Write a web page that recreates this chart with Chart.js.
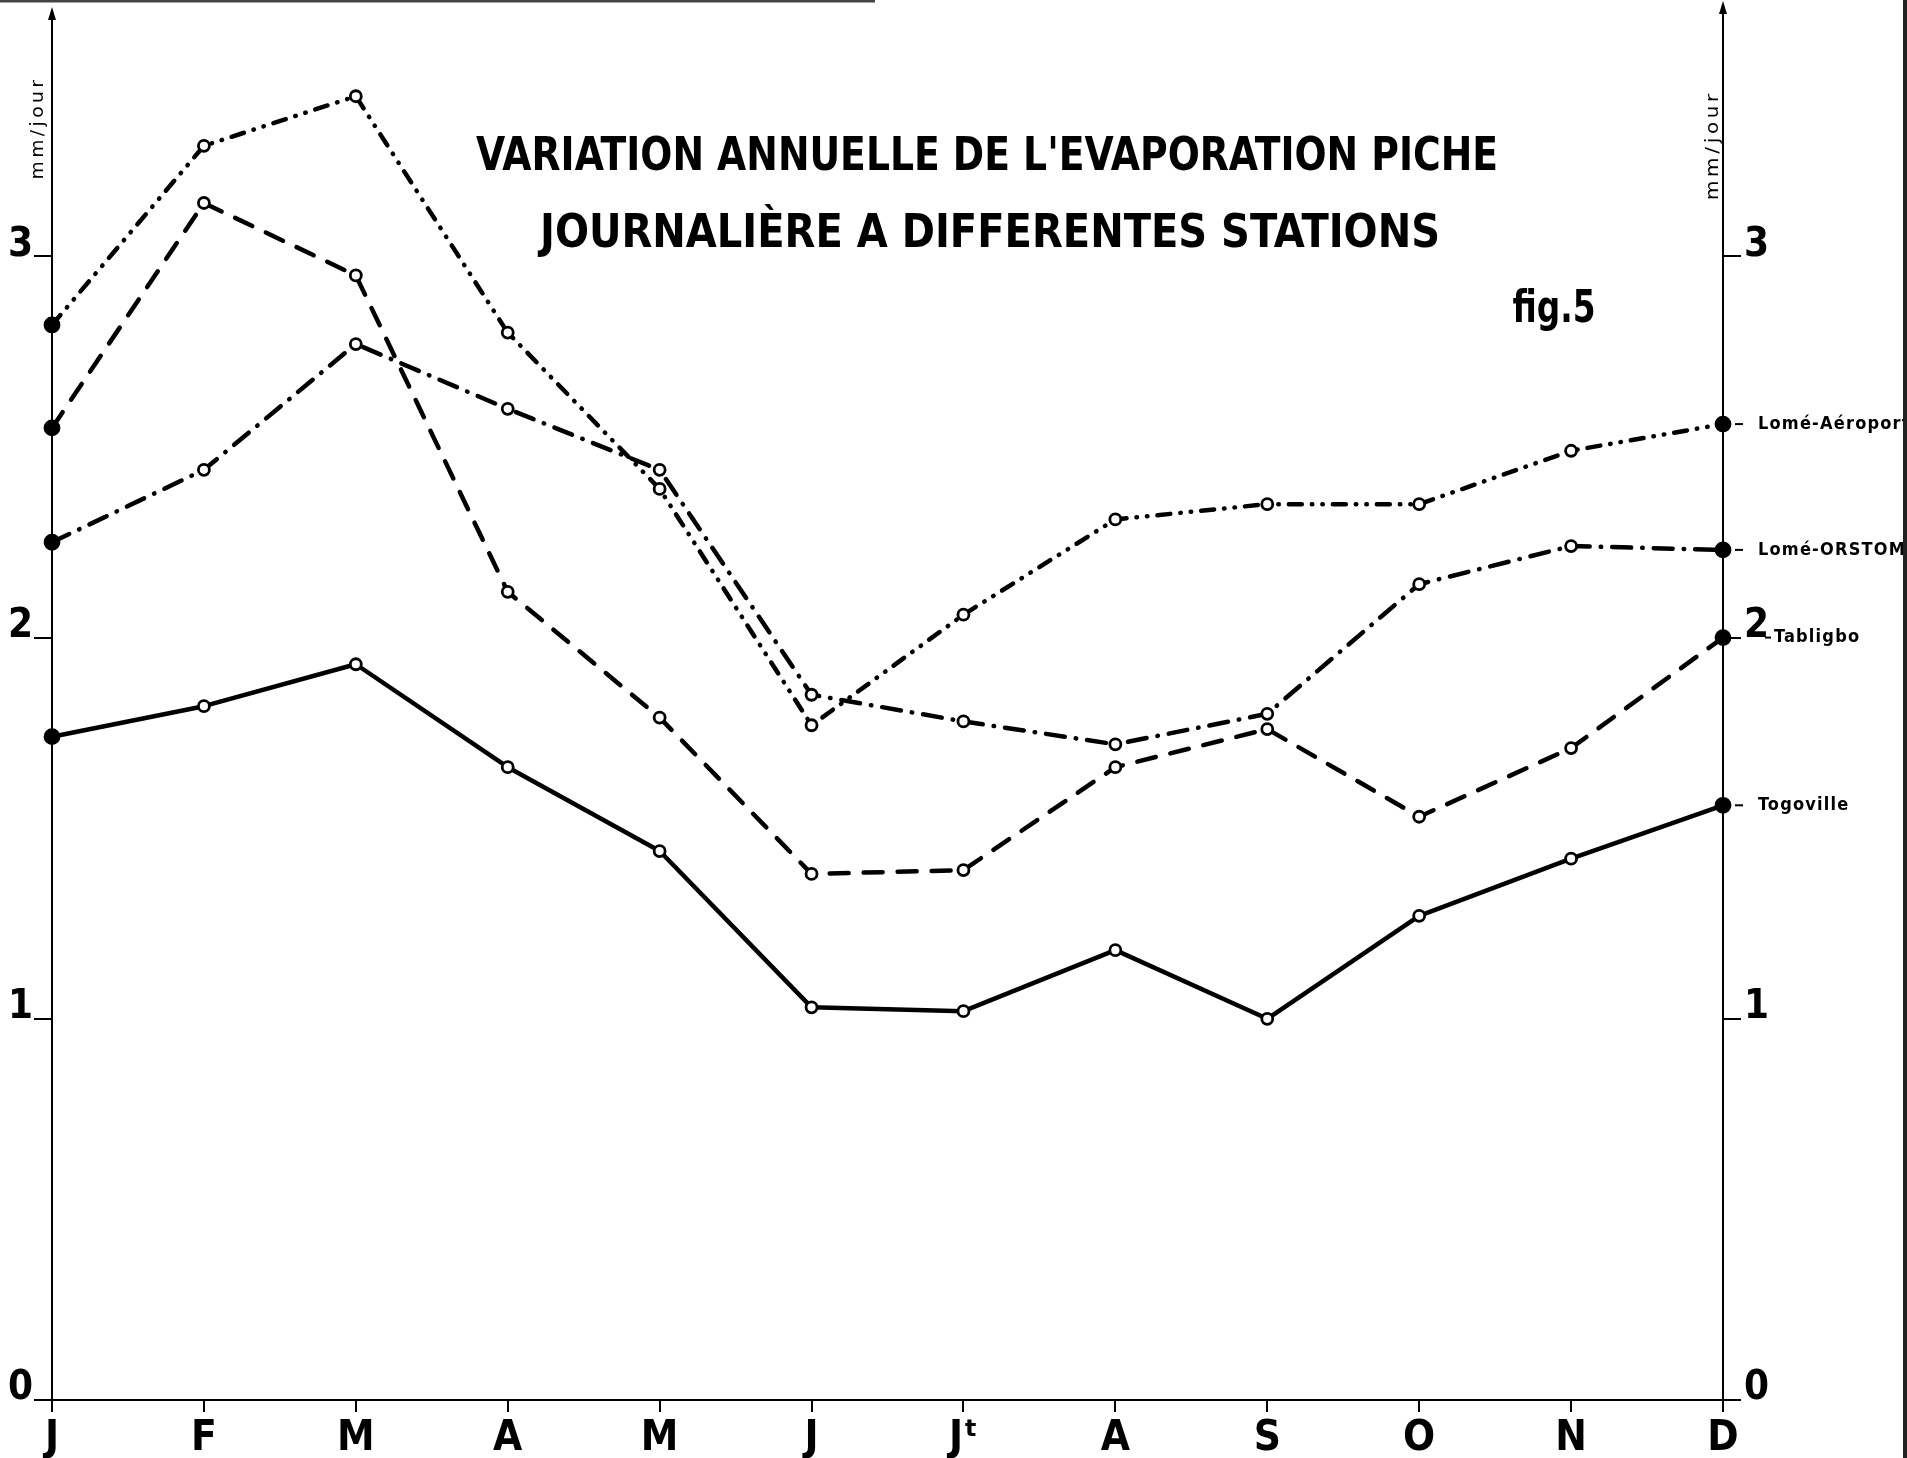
<!DOCTYPE html>
<html><head><meta charset="utf-8">
<script src="https://cdn.jsdelivr.net/npm/chart.js@4.4.1/dist/chart.umd.min.js"></script>
<style>html,body{margin:0;padding:0;background:#fff;}canvas{display:block}</style>
</head><body>
<canvas id="c" width="1907" height="1458"></canvas>
<script>
// ---- data ----
const months = ['J','F','M','A','M','J','J\u1D57','A','S','O','N','D'];
const stations = ['Lomé-Aéroport','Lomé-ORSTOM','Tabligbo','Togoville'];
const lomeAeroport = [2.82,3.29,3.42,2.80,2.39,1.77,2.06,2.31,2.35,2.35,2.49,2.56];
const lomeOrstom   = [2.25,2.44,2.77,2.60,2.44,1.85,1.78,1.72,1.80,2.14,2.24,2.23];
const tabligbo     = [2.55,3.14,2.95,2.12,1.79,1.38,1.39,1.66,1.76,1.53,1.71,2.00];
const togoville    = [1.74,1.82,1.93,1.66,1.44,1.03,1.02,1.18,1.00,1.27,1.42,1.56];
const yTicks = [0,1,2,3];
const titleLines = ["VARIATION ANNUELLE DE L'EVAPORATION PICHE","JOURNALIÈRE A DIFFERENTES STATIONS"];
const figLabel = 'fig.5';
const unitLabel = 'mm/jour';

// ---- styles ----
const FAM = "'DejaVu Sans Condensed','Liberation Sans Narrow','DejaVu Sans',sans-serif";
const dashStyles = [[13,10,0.5,10,0.5,10],[19,11,0.5,11],[19,15],[]];
const Y_MAX = 3.62;

function isEnd(c){ return c.dataIndex===0 || c.dataIndex===c.dataset.data.length-1; }
function mkDs(label, data, dash){
  return {label, data, borderColor:'#000', borderWidth:4.5, borderDash:dash,
    borderCapStyle: dash.length? 'round':'butt', borderJoinStyle:'round', tension:0, fill:false, clip:false,
    pointRadius: c => isEnd(c)?7:5.5, pointHoverRadius: c => isEnd(c)?7:5.5,
    pointBackgroundColor: c => isEnd(c)?'#000':'#fff', pointBorderColor:'#000', pointBorderWidth:2.8};
}

function fitText(ctx, text, cx, baseline, width, font){
  ctx.save();
  ctx.font = font; ctx.textAlign='left'; ctx.textBaseline='alphabetic';
  const w = ctx.measureText(text).width;
  ctx.translate(cx - width/2, baseline);
  ctx.scale(width/w, 1);
  ctx.fillText(text, 0, 0);
  ctx.restore();
}

const decor = {
  id:'decor',
  beforeDraw(chart){
    const c = chart.ctx; c.save(); c.fillStyle='#fff'; c.fillRect(0,0,chart.width,chart.height); c.restore();
  },
  afterDraw(chart){
    const ctx = chart.ctx, a = chart.chartArea, ys = chart.scales.y;
    ctx.save();
    ctx.strokeStyle='#000'; ctx.fillStyle='#000'; ctx.lineWidth=2;
    // axis arrows
    [[a.left, 7],[a.right, 1]].forEach(([x,tip])=>{
      ctx.beginPath(); ctx.moveTo(x,a.top+1); ctx.lineTo(x,tip+8); ctx.stroke();
      ctx.beginPath(); ctx.moveTo(x,tip); ctx.lineTo(x-4,tip+13); ctx.lineTo(x+4,tip+13); ctx.closePath(); ctx.fill();
    });
    // x-axis small extension to the left
    ctx.beginPath(); ctx.moveTo(36,a.bottom); ctx.lineTo(a.left,a.bottom); ctx.stroke();

    // title
    fitText(ctx, titleLines[0], 987, 170, 1022, "bold 47px "+FAM);
    fitText(ctx, titleLines[1], 990, 247, 900, "bold 47px "+FAM);
    fitText(ctx, figLabel, 1554, 322, 83, "bold 45px "+FAM);

    // unit labels (rotated, reading bottom to top)
    [[43,128,103],[1718,145,110]].forEach(([bx,cy,len])=>{
      ctx.save();
      ctx.translate(bx, cy); ctx.rotate(-Math.PI/2);
      ctx.font = "18px "+FAM; ctx.textAlign='left'; ctx.textBaseline='alphabetic';
      ctx.letterSpacing = '3px';
      const w = ctx.measureText(unitLabel).width;
      ctx.scale(len/w,1);
      ctx.fillText(unitLabel, -w/2, 0);
      ctx.restore();
    });

    // station labels at right end
    ctx.font = "bold 18px "+FAM; ctx.textBaseline='middle'; ctx.textAlign='left';
    ctx.letterSpacing = '1.2px';
    chart.data.datasets.forEach(ds=>{
      const last = ds.data[ds.data.length-1];
      const y = ys.getPixelForValue(last);
      const near = yTicks.find(t=>Math.abs(t-last)<0.06);
      ctx.lineWidth = 2;
      if (near !== undefined){
        const x0 = a.right + 42;
        ctx.beginPath(); ctx.moveTo(x0, y); ctx.lineTo(x0+6, y); ctx.stroke();
        ctx.fillText(ds.label, x0+9, y);
      } else {
        ctx.beginPath(); ctx.moveTo(a.right+12, y); ctx.lineTo(a.right+20, y); ctx.stroke();
        ctx.fillText(ds.label, a.right+35, y);
      }
    });
    ctx.letterSpacing = '0px';

    // scan edges
    ctx.strokeStyle='#444'; ctx.lineWidth=3;
    ctx.beginPath(); ctx.moveTo(0,1); ctx.lineTo(875,1); ctx.stroke();
    ctx.strokeStyle='#222'; ctx.lineWidth=4;
    ctx.beginPath(); ctx.moveTo(1905,0); ctx.lineTo(1905,1458); ctx.stroke();
    ctx.restore();
  }
};

const yCommon = (pos, width) => ({
  type:'linear', position:pos, min:0, max:Y_MAX,
  border:{display:true,color:'#000',width:2},
  grid:{display:true, drawOnChartArea:false, drawTicks:true, tickLength:18, color:'#000', lineWidth:2},
  ticks:{color:'#000', font:{family:FAM, size:40, weight:'bold'}, padding:pos==='left'?1:3, labelOffset:-11},
  afterBuildTicks(s){ s.ticks = yTicks.map(v=>({value:v})); },
  afterFit(s){ s.width = width; s.paddingTop = 0; s.paddingBottom = 0; }
});

new Chart(document.getElementById('c'), {
  type:'line',
  data:{
    labels: months,
    datasets:[
      mkDs(stations[0], lomeAeroport, dashStyles[0]),
      mkDs(stations[1], lomeOrstom, dashStyles[1]),
      mkDs(stations[2], tabligbo, dashStyles[2]),
      mkDs(stations[3], togoville, dashStyles[3])
    ]
  },
  options:{
    responsive:false, animation:false, devicePixelRatio:1, events:[],
    layout:{padding:{top:20,left:0,right:0,bottom:0}},
    plugins:{legend:{display:false}, tooltip:{enabled:false}, title:{display:false}},
    scales:{
      x:{type:'category', offset:false, position:'bottom',
         border:{display:true,color:'#000',width:2},
         grid:{display:true, drawOnChartArea:false, drawTicks:true, tickLength:12, color:'#000', lineWidth:2},
         ticks:{color:'#000', font:{family:FAM, size:42, weight:'bold'}, padding:2, autoSkip:false, maxRotation:0, minRotation:0},
         afterFit(s){ s.height = 58; s.paddingLeft = 0; s.paddingRight = 0; }},
      y: yCommon('left', 52),
      y2: yCommon('right', 184)
    }
  },
  plugins:[decor]
});
</script>
</body></html>
